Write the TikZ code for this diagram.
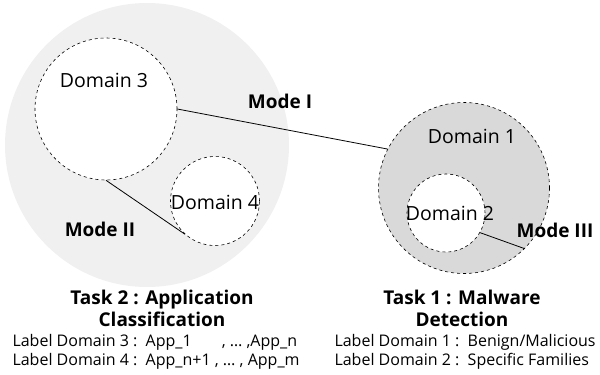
\documentclass[tikz,border=0pt]{standalone}
\usepackage{fontspec}
\setmainfont{Open Sans}
\usetikzlibrary{calc, shapes, backgrounds}
\definecolor{outergray}{HTML}{F0F0F0}
\definecolor{domgray}{HTML}{D9D9D9}
\tikzset{
	dom/.style = {circle, draw, dashed, line width=0.6pt, inner sep=0pt},
	domtext/.style = {font=\fontsize{19.5}{22}\selectfont},
	modetext/.style = {font=\fontsize{19}{22}\selectfont\bfseries},
	tasktext/.style = {font=\fontsize{19}{22}\selectfont\bfseries, align=center},
	labeltext/.style = {font=\fontsize{16}{19}\selectfont, anchor=west, align=left},
}

\begin{document}
\begin{tikzpicture}[x=1pt, y=-1pt]
		\useasboundingbox (0,0) rectangle (600,375);
		% task 2 area
		\node[circle, fill=outergray, minimum size=284pt] at (147,145) (t2) {};
		\node[dom, fill=white, minimum size=142pt] at (106,109) (d3) {};
		\node[dom, fill=white, minimum size=89pt] at (215,201) (d4) {};
		% task 1 area
		\node[dom, fill=domgray, minimum size=171pt] at (464,188) (d1) {};
		\node[dom, fill=white, minimum size=78pt] at (446,213) (d2) {};
		% domain names
		\node[domtext] at (104,80) (n3) {Domain 3};
		\node[domtext] at (215,202) (n4) {Domain 4};
		\node[domtext] at (472,136) (n1) {Domain 1};
		\node[domtext] at (450,213) (n2) {Domain 2};
		% modes
		\draw[line width=0.8pt] (d3.0) -- (d1.153);
		\draw[line width=0.8pt] (d3.270) -- (d4.228);
		\draw[line width=0.8pt] (d2.330) -- (d1.315);
		\node[modetext] at (280,101) (m1) {Mode I};
		\node[modetext] at (100,229) (m2) {Mode II};
		\node[modetext] at (555,230) (m3) {Mode III};
		% tasks
		\node[tasktext] at (162,308) (task2) {Task 2 : Application\\Classification};
		\node[tasktext] at (462,308) (task1) {Task 1 : Malware\\Detection};
		\node[labeltext] at (9,352) (lab2) {Label Domain 3 :\ \ App\_1\hspace{30pt}, … ,App\_n\\Label Domain 4 :\ \ App\_n+1 , … , App\_m};
		\node[labeltext] at (331,352) (lab1) {Label Domain 1 :\ \ Benign/Malicious\\Label Domain 2 :\ \ Specific Families};
		\end{tikzpicture}
\end{document}
